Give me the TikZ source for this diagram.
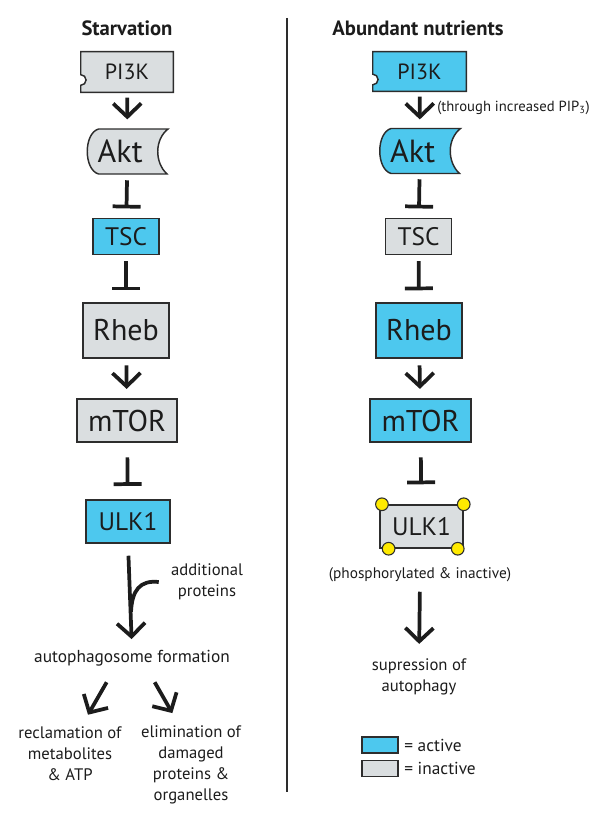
\documentclass[tikz,border=0pt]{standalone}
\usepackage{fontspec}
\setmainfont{PT Sans}
\usetikzlibrary{arrows.meta}

\definecolor{activeColor}{RGB}{77,200,238}
\definecolor{inactiveColor}{RGB}{218,222,224}
\definecolor{edgeColor}{RGB}{45,45,45}
\definecolor{inkColor}{RGB}{28,28,28}
\definecolor{phosColor}{RGB}{255,234,0}

% PI3K outline: box with a notch cut into its left side
\newcommand{\pikshape}[2]{%
  \path[prot,fill=#2] (#1.north west) -- (#1.north east) -- (#1.south east)
    -- (#1.south west) -- ([yshift=-10pt]#1.west)
    arc[start angle=-90,end angle=90,radius=4pt] -- cycle;}
% Akt outline: round left side, hollow right side
\newcommand{\aktshape}[2]{%
  \path[prot,fill=#2,shift={(#1.center)}] (-29,-22.5) -- (40.5,-22.5)
    .. controls (27,-12) and (27,11) .. (39.5,22.5) -- (-29,22.5)
    .. controls (-44,18) and (-44,-18) .. cycle;}

\begin{document}
\begin{tikzpicture}[x=0.75pt,y=-0.75pt,
  prot/.style={draw=edgeColor,line width=1.1pt,inner sep=0pt,text=inkColor},
  active/.style={fill=activeColor},
  inactive/.style={fill=inactiveColor},
  activates/.style={draw=inkColor,line width=2.8pt,-{Straight Barb[length=10pt,width=21pt]}},
  inhibits/.style={draw=inkColor,line width=2.8pt,-{Bar[width=21pt]}},
  note/.style={text=inkColor,font=\fontsize{12.5}{15.75}\selectfont,align=center,inner sep=0pt},
  head/.style={text=inkColor,font=\fontsize{15.5}{18}\selectfont\bfseries,inner sep=0pt},
  phos/.style={circle,draw=edgeColor,line width=0.8pt,fill=phosColor,minimum size=9.5pt,inner sep=0pt}]
\useasboundingbox (0,0) rectangle (600,824);

% headings and divider
\node[head] (titleL) at (127,28) {Starvation};
\node[head] (titleR) at (418,28) {Abundant nutrients};
\draw[edgeColor,line width=1.2pt] (287,18) -- (287,792);

% ---- starvation column
\node[inner sep=0pt,minimum width=69pt,minimum height=30pt] (pikL) at (127,72) {};
\pikshape{pikL}{inactiveColor}
\node[text=inkColor,font=\fontsize{16.5}{19}\selectfont] at (pikL) {PI3K};
\node[inner sep=0pt,minimum width=60.75pt,minimum height=33.75pt] (aktL) at (127.5,151.5) {};
\aktshape{aktL}{inactiveColor}
\node[text=inkColor,font=\fontsize{24}{28}\selectfont] (aktLtext) at ([xshift=-5.5pt]aktL.center) {Akt};
\node[prot,active,minimum width=49.5pt,minimum height=27pt,font=\fontsize{19}{22}\selectfont] (tscL) at (126,236.5) {TSC};
\node[prot,inactive,minimum width=64.5pt,minimum height=41.25pt,font=\fontsize{22.5}{26}\selectfont] (rhebL) at (126,330.5) {Rheb};
\node[prot,inactive,minimum width=75pt,minimum height=32.25pt,font=\fontsize{22.5}{26}\selectfont] (mtorL) at (127,420.5) {mTOR};
\node[prot,active,minimum width=63pt,minimum height=32.25pt,font=\fontsize{19}{22}\selectfont] (ulkL) at (128,521.5) {ULK1};

\node[note] (addL) at (207,582) {additional\\proteins};
\node[note,font=\fontsize{13}{16}\selectfont] (autoL) at (132,658) {autophagosome formation};
\node[note] (reclL) at (70,754) {reclamation of\\metabolites\\\& ATP};
\node[note] (elimL) at (191,764.5) {elimination of\\damaged\\proteins \&\\organelles};
\coordinate (joinL) at (131,612);

\draw[activates,shorten <=4pt,shorten >=7pt] (pikL) -- (aktL);
\draw[inhibits,shorten <=4.5pt,shorten >=7pt] (aktL) -- (tscL);
\draw[inhibits,shorten <=4.5pt,shorten >=9pt] (tscL) -- (rhebL);
\draw[activates,shorten <=5pt,shorten >=7pt] (rhebL) -- (mtorL);
\draw[inhibits,shorten <=11pt,shorten >=10pt] (mtorL) -- (ulkL);
\draw[activates,shorten <=9pt,shorten >=8pt] (ulkL.south) -- (autoL.north);
\draw[draw=inkColor,line width=2.8pt] ([xshift=-9pt]addL.west) .. controls (140,580) and (132,590) .. (joinL);
\draw[activates] ([xshift=-19pt,yshift=-12pt]autoL.south) -- ([xshift=13.5pt,yshift=9pt]reclL.north);
\draw[activates] ([xshift=17pt,yshift=-12pt]autoL.south) -- ([xshift=-14pt,yshift=9pt]elimL.north);

% ---- abundant nutrients column
\node[inner sep=0pt,minimum width=69.75pt,minimum height=29.25pt] (pikR) at (419.5,71.5) {};
\pikshape{pikR}{activeColor}
\node[text=inkColor,font=\fontsize{16.5}{19}\selectfont] at (pikR) {PI3K};
\node[inner sep=0pt,minimum width=60pt,minimum height=33pt] (aktR) at (420,151) {};
\aktshape{aktR}{activeColor}
\node[text=inkColor,font=\fontsize{24}{28}\selectfont] (aktRtext) at ([xshift=-5.5pt]aktR.center) {Akt};
\node[prot,inactive,minimum width=49.5pt,minimum height=27pt,font=\fontsize{19}{22}\selectfont] (tscR) at (418.5,236.5) {TSC};
\node[prot,active,minimum width=64.5pt,minimum height=41.25pt,font=\fontsize{22.5}{26}\selectfont] (rhebR) at (419,330.5) {Rheb};
\node[prot,active,minimum width=75.75pt,minimum height=32.25pt,font=\fontsize{22.5}{26}\selectfont] (mtorR) at (420.5,420.5) {mTOR};
\node[prot,inactive,minimum width=62.25pt,minimum height=32.25pt,font=\fontsize{19}{22}\selectfont] (ulkR) at (421.5,526.5) {ULK1};
\node[phos] (phosA) at ([xshift=2pt]ulkR.north west) {};
\node[phos] (phosB) at (ulkR.north east) {};
\node[phos] (phosC) at ([xshift=7pt]ulkR.south west) {};
\node[phos] (phosD) at ([xshift=-4.5pt]ulkR.south east) {};

\node[note,font=\fontsize{11}{13}\selectfont,anchor=west] (pipR) at (437,108) {(through increased PIP\textsubscript{3})};
\node[note,font=\fontsize{11.5}{14}\selectfont] (stateR) at (420,575) {(phosphorylated \& inactive)};
\node[note] (suppR) at (419,677) {supression of\\autophagy};

\draw[activates,shorten <=4pt,shorten >=7pt] (pikR) -- (aktR);
\draw[inhibits,shorten <=4.5pt,shorten >=7pt] (aktR) -- (tscR);
\draw[inhibits,shorten <=4.5pt,shorten >=9pt] (tscR) -- (rhebR);
\draw[activates,shorten <=5pt,shorten >=7pt] (rhebR) -- (mtorR);
\draw[inhibits,shorten <=11pt,shorten >=15pt] (mtorR) -- (ulkR);
\draw[activates,shorten <=7pt,shorten >=11pt] (stateR.south) -- (suppR.north);

% legend
\node[prot,active,minimum width=27pt,minimum height=12pt] (keyA) at (380,745) {};
\node[note,font=\fontsize{13}{16}\selectfont,anchor=west] (keyAtext) at ([xshift=4pt]keyA.east) {= active};
\node[prot,inactive,minimum width=27pt,minimum height=12pt] (keyI) at (380,768.5) {};
\node[note,font=\fontsize{13}{16}\selectfont,anchor=west] (keyItext) at ([xshift=4pt]keyI.east) {= inactive};
\end{tikzpicture}
\end{document}
